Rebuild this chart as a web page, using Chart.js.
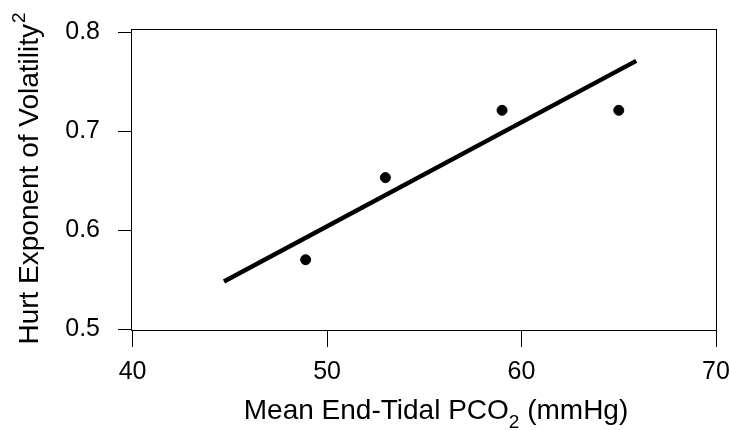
<!DOCTYPE html>
<html>
<head>
<meta charset="utf-8">
<script src="https://cdn.jsdelivr.net/npm/chart.js@4"></script>
<style>
  html, body { margin: 0; padding: 0; background: #fff; }
  #wrap { width: 729px; height: 430px; }
</style>
</head>
<body>
<div id="wrap"><canvas id="chart" width="729" height="430"></canvas></div>
<script>
// observed points
const pco2 = [48.9, 53.0, 59.0, 65.0];
const hurst = [0.570, 0.653, 0.721, 0.721];
// fitted line end points
const fitX = [44.7, 65.9];
const fitY = [0.548, 0.771];
// axis ticks
const xTicks = [40, 50, 60, 70];
const yTicks = [0.5, 0.6, 0.7, 0.8];

const FONT = "'Liberation Sans', Arial, Helvetica, sans-serif";

// box round the plot and the two axis titles with sub/superscript
const boxAndTitles = {
  id: "boxAndTitles",
  afterDraw(chart) {
    const { ctx, chartArea: a } = chart;
    ctx.save();
    ctx.strokeStyle = "#000";
    ctx.lineWidth = 1;
    ctx.strokeRect(a.left + 0.5, a.top + 0.5, a.right - a.left, a.bottom - a.top);

    ctx.fillStyle = "#000";
    ctx.textBaseline = "alphabetic";
    ctx.textAlign = "left";

    // x title
    const big = "28px " + FONT, small = "19px " + FONT;
    ctx.font = big;
    const p1 = "Mean End-Tidal PCO", p2 = " (mmHg)";
    const w1 = ctx.measureText(p1).width, w3 = ctx.measureText(p2).width;
    ctx.font = small;
    const w2 = ctx.measureText("2").width;
    let x = 436 - (w1 + w2 + w3) / 2;
    const by = 419;
    ctx.font = big;
    ctx.fillText(p1, x, by);
    ctx.font = small;
    ctx.fillText("2", x + w1, by + 9);
    ctx.font = big;
    ctx.fillText(p2, x + w1 + w2, by);

    // y title
    ctx.translate(38, 179);
    ctx.rotate(-Math.PI / 2);
    ctx.font = big;
    const q1 = "Hurt Exponent of Volatility";
    const v1 = ctx.measureText(q1).width;
    ctx.font = small;
    const v2 = ctx.measureText("2").width;
    const sx = -(v1 + v2) / 2;
    ctx.font = big;
    ctx.fillText(q1, sx, 0);
    ctx.font = small;
    ctx.fillText("2", sx + v1 + 1, -13);
    ctx.restore();
  }
};

new Chart(document.getElementById("chart"), {
  type: "scatter",
  data: {
    datasets: [
      {
        data: pco2.map((v, i) => ({ x: v, y: hurst[i] })),
        backgroundColor: "#000",
        borderColor: "#000",
        pointRadius: 5,
        pointHoverRadius: 5,
      },
      {
        data: fitX.map((v, i) => ({ x: v, y: fitY[i] })),
        showLine: true,
        borderColor: "#000",
        borderWidth: 4.5,
        pointRadius: 0,
        borderCapStyle: "butt",
      },
    ],
  },
  options: {
    responsive: false,
    animation: false,
    events: [],
    layout: { padding: { left: 0, right: 13, top: 29, bottom: 0 } },
    plugins: { legend: { display: false }, tooltip: { enabled: false } },
    scales: {
      x: {
        type: "linear",
        min: 39.92,
        max: 70,
        afterFit: (s) => { s.height = 100; s.paddingLeft = 0; s.paddingRight = 0; },
        afterBuildTicks: (s) => { s.ticks = xTicks.map((v) => ({ value: v })); },
        border: { display: false },
        grid: { drawOnChartArea: false, drawTicks: true, tickLength: 17, color: "#000", lineWidth: 1 },
        ticks: { color: "#000", padding: 10, font: { family: FONT, size: 25 } },
      },
      y: {
        type: "linear",
        min: 0.499,
        max: 0.8032,
        afterFit: (s) => { s.width = 131; s.paddingTop = 0; s.paddingBottom = 0; },
        afterBuildTicks: (s) => { s.ticks = yTicks.map((v) => ({ value: v })); },
        border: { display: false },
        grid: { drawOnChartArea: false, drawTicks: true, tickLength: 13, color: "#000", lineWidth: 1 },
        ticks: { color: "#000", padding: 18, font: { family: FONT, size: 25 } },
      },
    },
  },
  plugins: [boxAndTitles],
});
</script>
</body>
</html>
